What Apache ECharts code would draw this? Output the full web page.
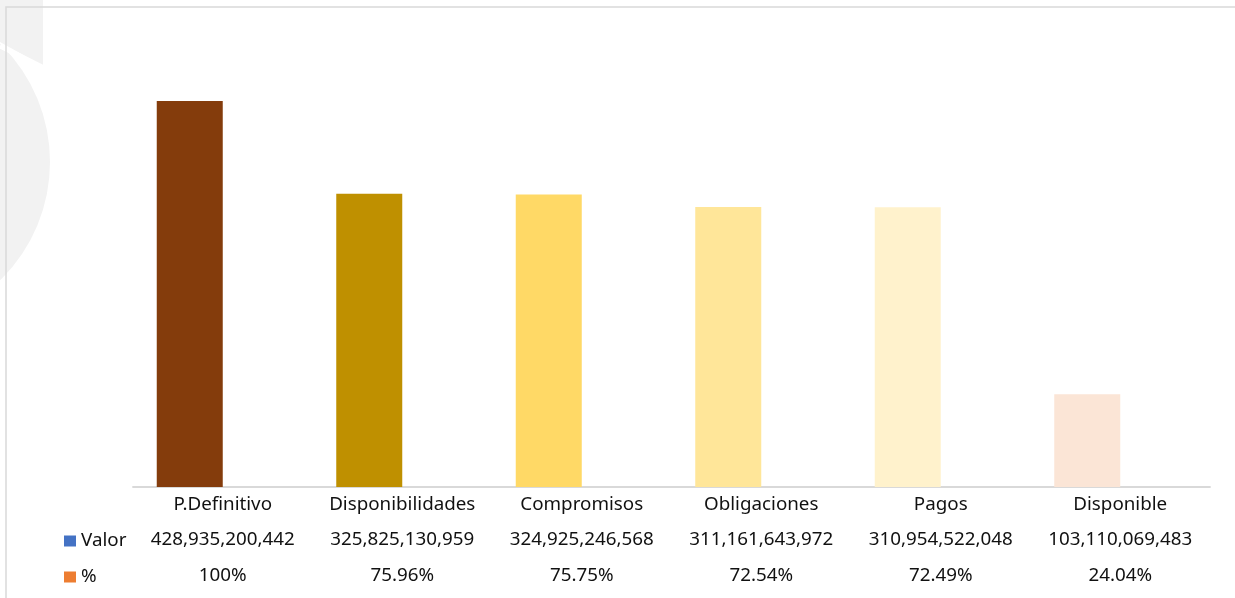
<!DOCTYPE html>
<html>
<head>
<meta charset="utf-8">
<script src="https://cdn.jsdelivr.net/npm/echarts@6/dist/echarts.min.js"></script>
<style>
html,body{margin:0;padding:0;background:#fff;}
#chart{width:1235px;height:598px;}
</style>
</head>
<body>
<div id="chart"></div>
<script>
var categories = ['P.Definitivo', 'Disponibilidades', 'Compromisos', 'Obligaciones', 'Pagos', 'Disponible'];
var valores = [428935200442, 325825130959, 324925246568, 311161643972, 310954522048, 103110069483];
var porcentajes = [1, 0.7596, 0.7575, 0.7254, 0.7249, 0.2404];
var seriesNames = ['Valor', '%'];
var barColors = ['#843C0C', '#BF9000', '#FFD966', '#FFE699', '#FFF2CC', '#FBE5D6'];

var FONT = 'Noto Sans';
var FS = 18.8;
var TXT = '#111111';

function fmtValor(v) { return v.toLocaleString('en-US'); }
function fmtPct(p) { return p === 1 ? '100%' : (p * 100).toFixed(2) + '%'; }

var chart = echarts.init(document.getElementById('chart'), null, {renderer: 'canvas'});

var labelBase = {fontFamily: FONT, fontSize: FS, color: TXT, margin: 8, interval: 0};

chart.setOption({
  animation: false,
  textStyle: {fontFamily: FONT},
  graphic: [
    {type: 'circle', z: -10, shape: {cx: -115, cy: 162, r: 165}, style: {fill: '#f2f2f2'}, silent: true},
    {type: 'polygon', z: -10, shape: {points: [[0, 0], [43, 0], [43, 66], [0, 42]]}, style: {fill: '#f2f2f2'}, silent: true},
    {type: 'line', z: -9, shape: {x1: 0, y1: 46, x2: 48, y2: 70}, style: {stroke: '#ffffff', lineWidth: 5}, silent: true},
    {type: 'polyline', z: 10, shape: {points: [[6, 598], [6, 7], [1235, 7]]}, style: {stroke: '#d9d9d9', lineWidth: 1.5, fill: null}, silent: true}
  ],
  legend: {
    orient: 'vertical',
    left: 59,
    top: 526,
    itemWidth: 12,
    itemHeight: 11,
    itemGap: 16,
    icon: 'rect',
    textStyle: {fontFamily: FONT, fontSize: FS, color: TXT, lineHeight: 20},
    data: seriesNames
  },
  grid: {left: 133, right: 25, top: 37, bottom: 111, containLabel: false},
  xAxis: [
    {
      type: 'category', data: categories, position: 'bottom',
      axisLine: {show: true, lineStyle: {color: '#d9d9d9', width: 1.8}},
      axisTick: {show: false},
      axisLabel: labelBase
    },
    {
      type: 'category', data: categories, position: 'bottom', offset: 35,
      axisLine: {show: false}, axisTick: {show: false}, splitLine: {show: false},
      axisLabel: Object.assign({}, labelBase, {formatter: function (v, i) { return fmtValor(valores[i]); }})
    },
    {
      type: 'category', data: categories, position: 'bottom', offset: 71,
      axisLine: {show: false}, axisTick: {show: false}, splitLine: {show: false},
      axisLabel: Object.assign({}, labelBase, {formatter: function (v, i) { return fmtPct(porcentajes[i]); }})
    }
  ],
  yAxis: {type: 'value', min: 0, max: 500000000000, show: false, splitLine: {show: false}},
  series: [
    {
      name: seriesNames[0], type: 'bar', xAxisIndex: 0, barWidth: 66, barGap: '0%',
      itemStyle: {color: '#4472C4'},
      data: valores.map(function (v, i) { return {value: v, itemStyle: {color: barColors[i]}}; })
    },
    {
      name: seriesNames[1], type: 'bar', xAxisIndex: 0, barWidth: 66, barGap: '0%',
      itemStyle: {color: '#ED7D31'},
      data: porcentajes
    }
  ]
});
</script>
</body>
</html>
